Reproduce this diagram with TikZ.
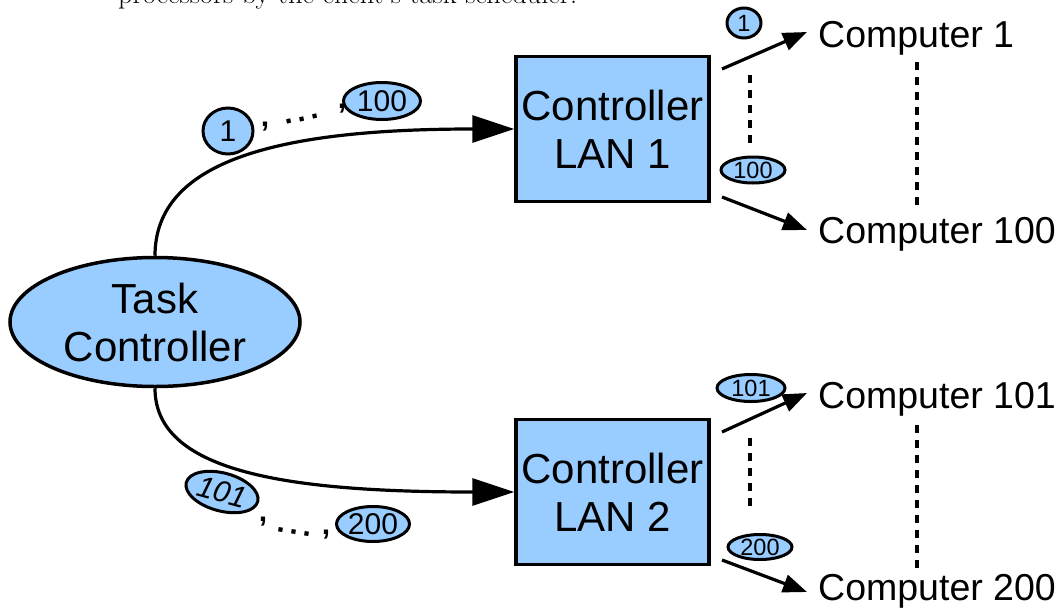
\documentclass[tikz,border=0pt]{standalone}
\usepackage{fontspec}
\newfontfamily\arial{Liberation Sans}
\usetikzlibrary{arrows.meta,shapes.geometric,calc}
\definecolor{lblue}{HTML}{99CCFF}
\begin{document}
\begin{tikzpicture}[x=1pt,y=-1pt,
  big/.style={font=\arial\fontsize{42}{48}\selectfont, align=center},
  comp/.style={font=\arial\fontsize{37.5}{44}\selectfont, anchor=base west, inner sep=0pt},
  boxnode/.style={big, draw, fill=lblue, line width=3.5pt, minimum width=193pt, minimum height=145pt, inner sep=0pt},
  badge/.style={ellipse, draw, line width=3pt, fill=lblue, inner sep=0pt},
  lbadge/.style={badge, font=\arial\fontsize{30}{30}\selectfont},
  sbadge/.style={badge, font=\arial\fontsize{23.5}{23.5}\selectfont},
  curvearrow/.style={line width=3.2pt, -{Triangle[length=42pt,width=27pt]}},
  smallarrow/.style={line width=3.2pt, -{Triangle[length=24pt,width=18pt]}},
  dots/.style={line width=4.5pt, dash pattern=on 8pt off 7pt},
  sep/.style={font=\arial\bfseries\fontsize{30}{30}\selectfont, inner sep=0pt}
]
\clip (0,0) rectangle (1062,613);

\node[anchor=base west, inner sep=0pt, font=\fontsize{28.4}{32}\selectfont] (cap) at (118,3.5) {processors by the client's task scheduler.};

\node[draw, fill=lblue, line width=3.5pt, ellipse, minimum width=290pt, minimum height=129pt, inner sep=0pt, big] (tc) at (155,322) {Task\\Controller};
\node[boxnode] (lan1) at (612.5,129) {Controller\\LAN 1};
\node[boxnode] (lan2) at (612.5,492) {Controller\\LAN 2};

\node[comp] (c1) at (818,47) {Computer 1};
\node[comp] (c100) at (818,243) {Computer 100};
\node[comp] (c101) at (818,408) {Computer 101};
\node[comp] (c200) at (818,600) {Computer 200};

\draw[curvearrow] (tc.north) .. controls (155,160) and (280,129) .. (lan1.west);
\draw[curvearrow] (tc.south) .. controls (155,470) and (280,492) .. (lan2.west);

\node[lbadge, minimum width=50pt, minimum height=46pt] (b1) at (228,131) {1};
\node[lbadge, minimum width=77pt, minimum height=37pt] (b100) at (382,101) {100};
\node[sep] (s1a) at (265,127) {,};
\node[sep, rotate=12] (s1b) at (302,119) {.\,.\,.};
\node[sep] (s1c) at (342,109) {,};
\node[lbadge, minimum width=74pt, minimum height=38pt, rotate=-15, font=\arial\itshape\fontsize{30}{30}\selectfont] (b101) at (222,492) {101};
\node[lbadge, minimum width=73pt, minimum height=35pt] (b200) at (373,524) {200};
\node[sep] (s2a) at (263,522) {,};
\node[sep, rotate=-10] (s2b) at (294,532) {.\,.\,.};
\node[sep] (s2c) at (326,535) {,};

\coordinate (a1s) at (722,69);
\coordinate (a1e) at (807,32);
\coordinate (a2s) at (722,197);
\coordinate (a2e) at (807,230);
\coordinate (a3s) at (722,432);
\coordinate (a3e) at (807,393);
\coordinate (a4s) at (722,560);
\coordinate (a4e) at (807,592);
\draw[smallarrow] (a1s) -- (a1e);
\draw[smallarrow] (a2s) -- (a2e);
\draw[smallarrow] (a3s) -- (a3e);
\draw[smallarrow] (a4s) -- (a4e);

\node[sbadge, minimum width=34pt, minimum height=30pt] (r1) at (744,23) {1};
\node[sbadge, minimum width=64pt, minimum height=26pt] (r100) at (753,170) {100};
\node[sbadge, minimum width=68pt, minimum height=27pt] (r101) at (751,388) {101};
\node[sbadge, minimum width=64pt, minimum height=25pt] (r200) at (760,547) {200};

\coordinate (d1a) at (750,75);  \coordinate (d1b) at (750,145);
\coordinate (d2a) at (917,62);  \coordinate (d2b) at (917,207);
\coordinate (d3a) at (750,438); \coordinate (d3b) at (750,508);
\coordinate (d4a) at (917,425); \coordinate (d4b) at (917,570);
\draw[dots] (d1a) -- (d1b);
\draw[dots] (d2a) -- (d2b);
\draw[dots] (d3a) -- (d3b);
\draw[dots] (d4a) -- (d4b);
\end{tikzpicture}
\end{document}
